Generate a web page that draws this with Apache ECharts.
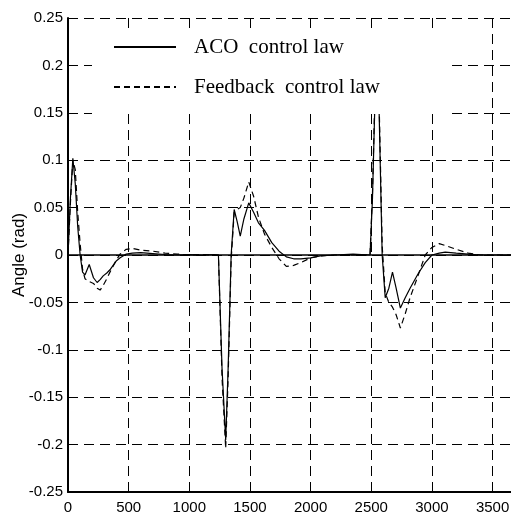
<!DOCTYPE html>
<html>
<head>
<meta charset="utf-8">
<script src="https://cdn.jsdelivr.net/npm/echarts@6/dist/echarts.min.js"></script>
<style>
  html, body { margin: 0; padding: 0; background: #fff; }
  #chart { width: 511px; height: 516px; }
</style>
</head>
<body>
<div id="chart"></div>
<script>
// sample times (x) shared by both curves
var timeSteps = [0, 20, 40, 60, 80, 100, 120, 140, 175, 210, 240, 265, 290, 320, 350, 400, 430, 480, 530, 600,
  700, 800, 900, 1000, 1100, 1200, 1240, 1270, 1300, 1320, 1345, 1370, 1395, 1420, 1450, 1490, 1530, 1570, 1620,
  1680, 1740, 1800, 1860, 1920, 2000, 2080, 2200, 2350, 2490, 2510, 2530, 2548, 2565, 2590, 2615, 2645, 2675,
  2705, 2740, 2780, 2820, 2885, 2945, 3000, 3060, 3110, 3200, 3300, 3400, 3500, 3652];

// ACO control law (solid)
var acoLaw = [0, 0.06, 0.102, 0.075, 0.03, 0, -0.018, -0.021, -0.01, -0.024, -0.029, -0.026, -0.022, -0.019, -0.015,
  -0.006, -0.003, 0.001, 0.002, 0.0025, 0.0015, 0.0005, 0, 0.0005, 0, 0.0005, 0, -0.12, -0.195, -0.12, 0, 0.048,
  0.035, 0.02, 0.038, 0.055, 0.045, 0.034, 0.026, 0.013, 0.004, -0.002, -0.004, -0.004, -0.003, -0.001, 0, 0.001,
  0, 0.06, 0.16, 0.19, 0.15, 0, -0.045, -0.035, -0.018, -0.035, -0.056, -0.045, -0.035, -0.02, -0.008, 0, 0.002,
  0.003, 0.002, 0.001, 0, 0, 0];

// Feedback control law (dashed)
var feedbackLaw = [0, 0.055, 0.1, 0.09, 0.045, 0.012, -0.015, -0.025, -0.028, -0.03, -0.035, -0.037, -0.032, -0.025,
  -0.017, -0.005, 0.001, 0.006, 0.007, 0.005, 0.004, 0.002, 0.001, 0, 0.0005, 0, 0, -0.13, -0.204, -0.13, -0.005,
  0.045, 0.048, 0.05, 0.06, 0.077, 0.062, 0.04, 0.022, 0.008, -0.004, -0.012, -0.011, -0.008, -0.003, -0.001, 0, 0,
  0, 0.065, 0.17, 0.2, 0.16, 0.01, -0.04, -0.05, -0.055, -0.063, -0.077, -0.062, -0.045, -0.022, 0, 0.008, 0.012,
  0.01, 0.006, 0.002, 0, 0, 0];

var legendNames = ['ACO  control law', 'Feedback  control law'];

function pairs(vals) {
  return timeSteps.map(function (t, i) { return [t, vals[i]]; });
}

var chart = echarts.init(document.getElementById('chart'));

var gridDash = { color: '#000', width: 1, type: [10, 6] };
var tickFont = { fontFamily: "'Liberation Sans Narrow', 'Arial Narrow', 'Liberation Sans', sans-serif", fontSize: 15, color: '#000' };

chart.setOption({
  animation: false,
  backgroundColor: '#fff',
  grid: { left: 68, right: 0, top: 18, bottom: 24, outerBoundsMode: 'none', containLabel: false },
  legend: {
    data: legendNames,
    orient: 'vertical',
    left: 92,
    top: 30,
    backgroundColor: '#fff',
    padding: [5, 72, 15, 21],
    itemWidth: 62,
    itemHeight: 14,
    itemGap: 16,
    itemStyle: { color: 'transparent', borderColor: 'transparent', borderWidth: 0 },
    textStyle: {
      fontFamily: "'Liberation Serif', 'Times New Roman', serif",
      fontSize: 21,
      lineHeight: 24,
      color: '#000',
      padding: [0, 0, 0, 13]
    }
  },
  xAxis: [{
    type: 'value',
    min: 0,
    max: 3652,
    interval: 500,
    axisLine: { show: true, onZero: false, lineStyle: { color: '#000', width: 2 } },
    axisTick: { show: false },
    axisLabel: Object.assign({ margin: 8, showMaxLabel: false, formatter: function (v) { return String(v); } }, tickFont),
    splitLine: { show: true, lineStyle: gridDash }
  }, {
    type: 'value',
    position: 'top',
    min: 0,
    max: 3652,
    axisLine: { show: true, lineStyle: { color: '#000', width: 1.5 } },
    axisTick: { show: false },
    axisLabel: { show: false },
    splitLine: { show: false }
  }],
  yAxis: {
    type: 'value',
    min: -0.25,
    max: 0.25,
    interval: 0.05,
    name: 'Angle (rad)',
    nameLocation: 'middle',
    nameGap: 40,
    nameMoveOverlap: false,
    nameTextStyle: { fontFamily: "'Liberation Sans', Arial, sans-serif", fontSize: 17, color: '#000' },
    axisLine: { show: true, onZero: false, lineStyle: { color: '#000', width: 2 } },
    axisTick: { show: false },
    axisLabel: Object.assign({ margin: 5, formatter: function (v) { return String(+v.toFixed(2)); } }, tickFont),
    splitLine: { show: true, lineStyle: gridDash }
  },
  series: [{
    name: legendNames[0],
    type: 'line',
    data: pairs(acoLaw),
    symbol: 'none',
    lineStyle: { color: '#000', width: 1.2, type: 'solid' },
    itemStyle: { color: '#000' }
  }, {
    name: legendNames[1],
    type: 'line',
    data: pairs(feedbackLaw),
    symbol: 'none',
    lineStyle: { color: '#000', width: 1.2, type: [6, 4] },
    itemStyle: { color: '#000' }
  }]
});
</script>
</body>
</html>
